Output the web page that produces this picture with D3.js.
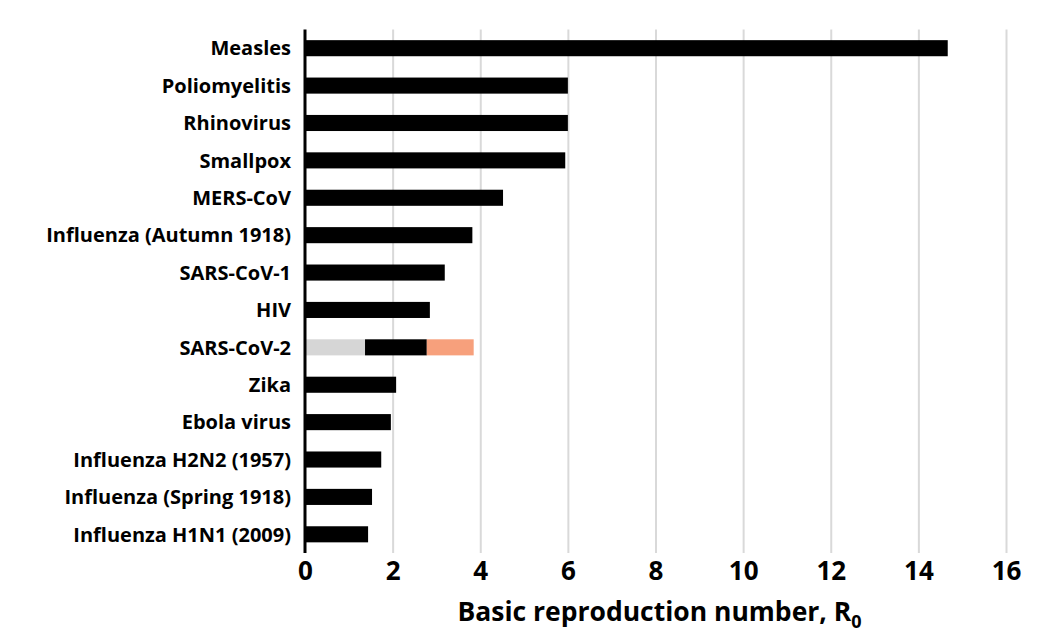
<!DOCTYPE html>
<html>
<head>
<meta charset="utf-8">
<script src="https://cdn.jsdelivr.net/npm/d3@7"></script>
<style>
  html, body { margin: 0; padding: 0; background: #fff; }
  svg { display: block; }
  text { font-family: "Open Sans", "Liberation Sans", sans-serif; font-weight: bold; fill: #000; }
</style>
</head>
<body>
<svg id="chart" width="1058" height="643"></svg>
<script>
// ---- data ----
const categories = [
  "Measles", "Poliomyelitis", "Rhinovirus", "Smallpox", "MERS-CoV",
  "Influenza (Autumn 1918)", "SARS-CoV-1", "HIV", "SARS-CoV-2", "Zika",
  "Ebola virus", "Influenza H2N2 (1957)", "Influenza (Spring 1918)", "Influenza H1N1 (2009)"
];
// stacked segments (SARS-CoV-2 split into low / central / high parts)
const lowSegment  = [0, 0, 0, 0, 0, 0, 0, 0, 1.37, 0, 0, 0, 0, 0];
const mainSegment = [14.67, 6.0, 6.0, 5.94, 4.52, 3.82, 3.19, 2.85, 1.41, 2.08, 1.96, 1.74, 1.53, 1.44];
const highSegment = [0, 0, 0, 0, 0, 0, 0, 0, 1.07, 0, 0, 0, 0, 0];
const xTicks = [0, 2, 4, 6, 8, 10, 12, 14, 16];
const xTitle = "Basic reproduction number, R";
const xTitleSub = "0";

// ---- layout ----
const svg = d3.select("#chart");
const mLeft = 305, mRight = 1006, mTop = 29.5, mBottom = 553;

const x = d3.scaleLinear().domain([0, 16]).range([mLeft, mRight]);
const y = d3.scaleBand().domain(categories).range([mTop, mBottom])
  .paddingInner(0.57).paddingOuter(0.285);

const table = categories.map((c, i) => ({
  cat: c, low: lowSegment[i], main: mainSegment[i], high: highSegment[i]
}));
const keys = ["low", "main", "high"];
const colors = { low: "#d6d6d6", main: "#000000", high: "#f7a07c" };
const stacked = d3.stack().keys(keys)(table);

// gridlines + tick labels
const xAxis = d3.axisBottom(x).tickValues(xTicks).tickSizeInner(-(mBottom - mTop)).tickSizeOuter(0)
  .tickFormat(d3.format("d"));
const gx = svg.append("g").attr("transform", `translate(0,${mBottom})`).call(xAxis);
gx.select(".domain").remove();
gx.selectAll(".tick line")
  .attr("stroke", d => d === 0 ? "none" : "#d9d9d9")
  .attr("stroke-width", 2);
gx.selectAll(".tick text")
  .attr("y", 27).attr("dy", null)
  .style("font-size", "26px");

// bars
svg.append("g").selectAll("g")
  .data(stacked)
  .join("g")
  .attr("fill", d => colors[d.key])
  .selectAll("rect")
  .data(d => d.filter(s => s[1] - s[0] > 0))
  .join("rect")
  .attr("x", d => x(d[0]))
  .attr("y", d => y(d.data.cat))
  .attr("width", d => x(d[1]) - x(d[0]))
  .attr("height", y.bandwidth());

// y axis (labels + line)
const yAxis = d3.axisLeft(y).tickSize(0).tickPadding(14);
const gy = svg.append("g").attr("transform", `translate(${mLeft},0)`).call(yAxis);
gy.select(".domain").attr("stroke", "#000").attr("stroke-width", 3)
  .attr("d", `M0,${mTop}V${mBottom}`);
gy.selectAll(".tick text").style("font-size", "20px").attr("dy", "0.36em");

// x title
const title = svg.append("text")
  .attr("x", (mLeft + mRight) / 2 + 4)
  .attr("y", 621)
  .attr("text-anchor", "middle")
  .style("font-size", "26.5px");
title.append("tspan").text(xTitle);
title.append("tspan").text(xTitleSub).attr("dy", 7).style("font-size", "18px");
</script>
</body>
</html>
